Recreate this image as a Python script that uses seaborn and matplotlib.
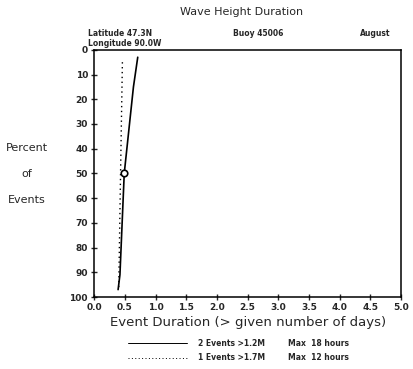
import matplotlib
matplotlib.use("Agg")
import matplotlib.pyplot as plt
import seaborn as sns

# wave height duration curves (days vs percent of events)
solid_days = [0.71, 0.64, 0.49, 0.42, 0.39]
solid_pct = [3, 15, 50, 91, 97]
dotted_days = [0.46, 0.43, 0.40]
dotted_pct = [5, 50, 97]
median_days = [0.49]
median_pct = [50]

x_ticks = [0.0, 0.5, 1.0, 1.5, 2.0, 2.5, 3.0, 3.5, 4.0, 4.5, 5.0]
y_ticks = [0, 10, 20, 30, 40, 50, 60, 70, 80, 90, 100]
legend_events = ["2 Events >1.2M", "1 Events >1.7M"]
legend_max = ["Max  18 hours", "Max  12 hours"]

sns.set_style("ticks")
plt.rcParams["font.family"] = ["DejaVu Sans"]

fig = plt.figure(figsize=(4.13, 3.69), dpi=100)
ax = fig.add_axes([0.228, 0.195, 0.743, 0.67])

sns.lineplot(x=solid_days, y=solid_pct, sort=False, estimator=None,
             color="black", linewidth=1.2, ax=ax)
sns.lineplot(x=dotted_days, y=dotted_pct, sort=False, estimator=None,
             color="black", linewidth=1.0, linestyle=(0, (1, 2.5)), ax=ax)
sns.scatterplot(x=median_days, y=median_pct, marker="o", s=22,
                facecolor="white", edgecolor="black", linewidth=1.2, ax=ax, zorder=5)

ax.set_xlim(0, 5)
ax.set_ylim(100, 0)
ax.set_xticks(x_ticks)
ax.set_xticklabels([f"{v:.1f}" for v in x_ticks], fontsize=6.5, fontweight="bold")
ax.set_yticks(y_ticks)
ax.set_yticklabels([str(v) for v in y_ticks], fontsize=6.5, fontweight="bold")
ax.tick_params(axis="both", direction="inout", length=5, width=1.0, pad=2)
for s in ax.spines.values():
    s.set_linewidth(1.1)
    s.set_color("black")

ax.set_xlabel("Event Duration (> given number of days)", fontsize=9.5, labelpad=3)

# y label, stacked horizontally
fig.text(0.065, 1 - 148 / 369, "Percent", fontsize=8, ha="center", va="center")
fig.text(0.065, 1 - 174 / 369, "of", fontsize=8, ha="center", va="center")
fig.text(0.065, 1 - 200 / 369, "Events", fontsize=8, ha="center", va="center")

fig.text(242 / 413, 1 - 12 / 369, "Wave Height Duration", fontsize=8, ha="center", va="center")
fig.text(88 / 413, 1 - 33 / 369, "Latitude 47.3N", fontsize=5.5, fontweight="bold", va="center")
fig.text(88 / 413, 1 - 43 / 369, "Longitude 90.0W", fontsize=5.5, fontweight="bold", va="center")
fig.text(258 / 413, 1 - 33 / 369, "Buoy 45006", fontsize=5.5, fontweight="bold", ha="center", va="center")
fig.text(390 / 413, 1 - 33 / 369, "August", fontsize=5.5, fontweight="bold", ha="right", va="center")

# legend rows below the axis
styles = ["-", (0, (1, 2.5))]
rows_y = [343, 358]
for ev, mx, ls, ry in zip(legend_events, legend_max, styles, rows_y):
    yf = 1 - ry / 369
    fig.add_artist(plt.Line2D([128 / 413, 187 / 413], [yf, yf], color="black",
                              linewidth=0.7, linestyle=ls))
    fig.text(198 / 413, yf, ev, fontsize=5.5, fontweight="bold", va="center")
    fig.text(288 / 413, yf, mx, fontsize=5.5, fontweight="bold", va="center")

fig.savefig("out.png", dpi=100)
